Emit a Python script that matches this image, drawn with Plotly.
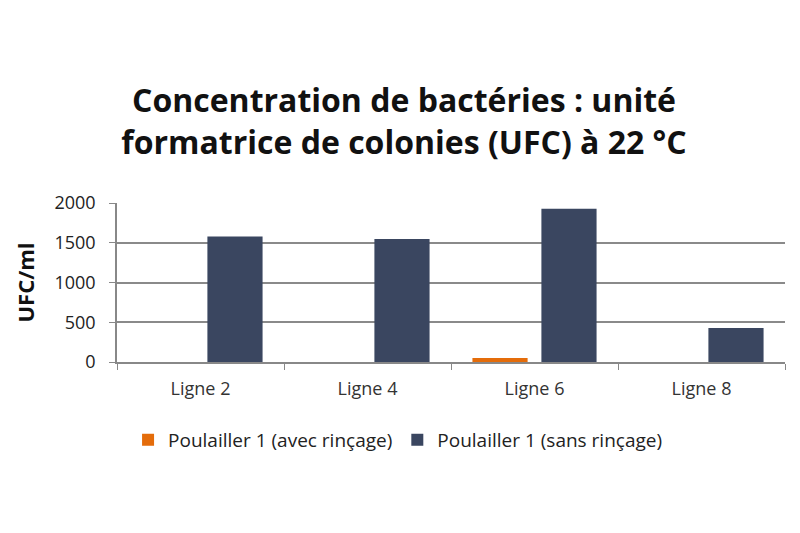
import plotly.graph_objects as go

categories = ["Ligne 2", "Ligne 4", "Ligne 6", "Ligne 8"]
avec_rincage = [0, 0, 50, 0]
sans_rincage = [1580, 1547, 1928, 428]
series_names = ["Poulailler 1 (avec rinçage)", "Poulailler 1 (sans rinçage)"]
y_ticks = [0, 500, 1000, 1500, 2000]

font_family = "Open Sans, Lato, sans-serif"

fig = go.Figure()
fig.add_trace(go.Bar(x=categories, y=avec_rincage, name=series_names[0],
                     marker=dict(color="#E46C0A", line=dict(width=0))))
fig.add_trace(go.Bar(x=categories, y=sans_rincage, name=series_names[1],
                     marker=dict(color="#3A4660", line=dict(width=0))))

fig.update_layout(
    width=800, height=533,
    margin=dict(l=117, r=15, t=203, b=171),
    paper_bgcolor="white", plot_bgcolor="white",
    barmode="group", bargap=0.174, bargroupgap=0.2,
    title=dict(text="<b>Concentration de bactéries : unité<br>formatrice de colonies (UFC) à 22 °C</b>",
               x=0.505, xanchor="center", y=0.79, yanchor="bottom",
               font=dict(family=font_family, size=32, color="#111111")),
    showlegend=True,
    legend=dict(orientation="h", x=0.42, xanchor="center", y=-0.49, yanchor="middle",
                font=dict(family=font_family, size=19, color="#222222"),
                itemwidth=30, traceorder="normal"),
    font=dict(family=font_family),
)
fig.update_xaxes(
    tickson="boundaries", ticks="outside", ticklen=6, tickcolor="#888888",
    showline=True, linecolor="#888888", linewidth=1.5,
    ticklabelstandoff=10,
    tickfont=dict(family=font_family, size=18, color="#333333"),
)
fig.update_yaxes(
    range=[0, 2000], tickvals=y_ticks, ticks="outside", ticklen=6, tickcolor="#888888",
    showline=True, linecolor="#888888", linewidth=1.5,
    showgrid=True, gridcolor="#8a8a8a", gridwidth=1.5,
    ticklabelstandoff=10,
    tickfont=dict(family=font_family, size=18, color="#222222"),
    title=dict(text="<b>UFC/ml</b>", font=dict(family=font_family, size=22, color="#111111"),
               standoff=14),
    zeroline=False,
)

fig.write_html("out.html")
